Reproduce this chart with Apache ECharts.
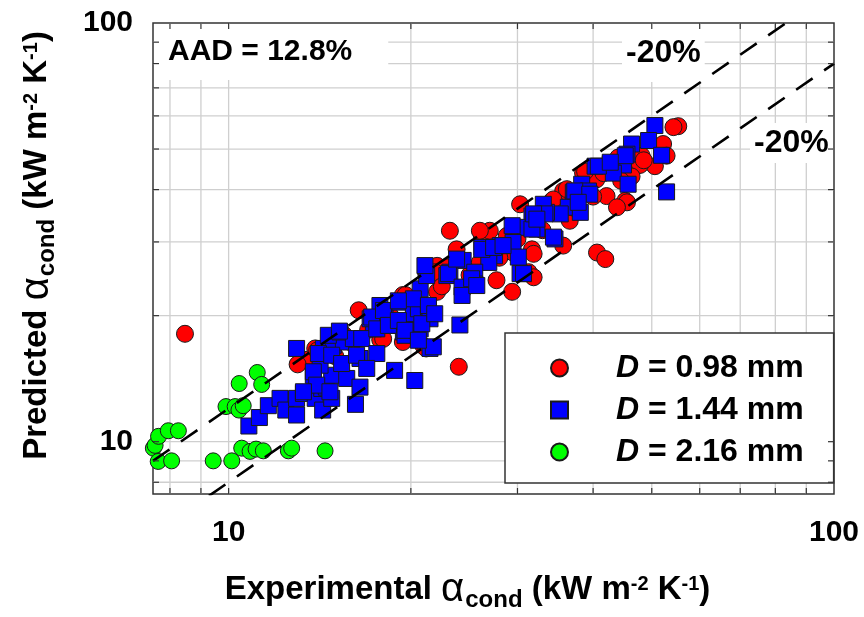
<!DOCTYPE html>
<html>
<head>
<meta charset="utf-8">
<script src="https://cdn.jsdelivr.net/npm/echarts@6/dist/echarts.min.js"></script>
<style>
  html, body { margin: 0; padding: 0; background: #fff; }
  #chart { width: 864px; height: 617px; }
</style>
</head>
<body>
<div id="chart"></div>
<script>
// Axis ranges (both log scales) and labelled ticks
const xRange = [7.5, 100];
const yRange = [7.5, 100];
const xTickLabels = [10, 100];
const yTickLabels = [10, 100];
// Positions of the grid lines / minor ticks on both axes
const gridValues = [8, 9, 10, 20, 30, 40, 50, 60, 70, 80, 90];

// Deviation bands drawn as dashed lines (predicted = ratio * experimental)
const bandRatios = [1.2, 0.8];
const bandLabels = ['-20%', '-20%'];
const aadText = 'AAD = 12.8%';

const seriesNames = ['D = 0.98 mm', 'D = 1.44 mm', 'D = 2.16 mm'];

// [experimental, predicted] in kW m-2 K-1
const d098 = [
  [8.47, 18.1], [24.0, 15.1], [40.6, 28.3], [41.9, 27.3], [23.2, 31.9], [55.3, 56.7], [54.3, 56.4],
  [16.4, 20.6], [13.5, 15.7], [13.9, 16.7], [17.8, 17.5], [19.4, 22.4], [19.3, 19.3], [19.4, 17.3],
  [21.0, 16.9], [22.1, 26.3], [22.1, 22.8], [15.5, 18.0], [23.8, 28.8], [26.2, 31.0], [27.0, 31.9],
  [30.3, 36.9], [34.2, 37.6], [35.7, 39.7], [38.5, 43.8], [40.5, 42.3], [36.6, 33.7], [35.7, 29.4],
  [31.7, 28.8], [31.3, 25.4], [28.8, 31.0], [31.9, 28.1], [52.2, 51.4], [52.9, 48.2], [50.6, 45.5],
  [48.1, 48.2], [47.8, 45.8], [44.0, 47.7], [38.8, 44.2], [41.6, 43.8], [36.2, 40.1], [42.1, 38.6],
  [45.2, 37.6], [46.3, 43.0], [34.4, 37.9], [45.5, 37.3], [43.8, 36.3], [31.9, 24.7], [27.7, 24.3],
  [26.0, 26.8], [26.0, 31.9], [22.9, 26.1], [21.2, 25.2], [29.4, 22.8], [21.9, 25.4], [19.6, 22.4],
  [21.2, 16.7], [29.5, 28.3], [14.0, 16.5], [18.0, 17.6], [17.0, 18.5], [16.0, 17.2], [15.0, 16.0],
  [18.5, 20.0], [20.5, 21.0], [22.5, 23.5], [25.0, 25.0], [28.0, 27.5], [33.0, 32.0], [30.0, 30.5],
  [37.5, 36.0], [40.0, 38.5], [44.5, 42.0], [48.5, 47.0], [32.5, 34.5], [13.0, 15.3]
];
const d144 = [
  [10.8, 10.9], [11.24, 11.42], [11.63, 12.19], [12.16, 12.69], [12.43, 11.9], [12.95, 11.58],
  [12.95, 12.69], [13.29, 13.04], [13.8, 14.41], [13.9, 12.69], [14.25, 13.4], [14.3, 11.9],
  [14.5, 13.5], [14.8, 12.69], [14.8, 14.41], [14.16, 15.23], [15.67, 14.16], [16.2, 12.28],
  [16.48, 13.5], [16.48, 15.8], [12.95, 16.7], [14.34, 16.7], [14.89, 16.99], [15.47, 17.3],
  [14.61, 17.95], [15.28, 18.28], [16.07, 17.63], [17.34, 18.6], [17.13, 19.66], [18.13, 19.85],
  [17.78, 21.15], [19.19, 21.54], [18.71, 18.96], [19.69, 18.96], [20.72, 18.6], [19.44, 18.28],
  [20.19, 20.21], [21.24, 20.77], [21.51, 16.7], [15.24, 18.37], [14.07, 16.24], [14.8, 16.09],
  [13.8, 14.69], [15.37, 15.37], [13.98, 13.65], [14.7, 13.16], [13.29, 13.16], [16.59, 17.63],
  [16.27, 16.09], [17.57, 16.24], [16.91, 14.96], [17.23, 19.85], [18.02, 20.58], [17.57, 18.6],
  [18.36, 18.96], [19.07, 19.48], [19.56, 17.95], [20.45, 18.45], [18.8, 14.8], [20.3, 14.0],
  [21.78, 16.85], [20.58, 20.77], [21.38, 20.97], [20.72, 23.18], [21.24, 24.93], [21.1, 26.34],
  [22.93, 24.93], [20.19, 21.94], [21.51, 19.66], [20.85, 19.13], [40.3, 45.5], [38.3, 41.2],
  [37.1, 39.4], [39.3, 39.7], [36.4, 36.3], [38.1, 35.3], [35.3, 35.0], [33.5, 35.3], [33.1, 36.9],
  [34.6, 30.5], [31.7, 34.6], [30.9, 32.5], [32.3, 32.2], [29.4, 32.8], [29.5, 29.9], [28.1, 29.4],
  [26.2, 29.1], [27.5, 27.8], [26.9, 26.8], [30.1, 27.6], [24.4, 27.1], [23.2, 25.4], [25.5, 25.4],
  [30.3, 25.2], [50.6, 56.9], [49.4, 52.4], [46.3, 51.4], [45.5, 48.6], [51.9, 48.3], [42.7, 46.1],
  [44.9, 45.8], [43.2, 43.8], [45.7, 41.2], [37.3, 39.7], [39.5, 39.0], [52.9, 39.5], [37.8, 37.3],
  [23.07, 25.2], [24.3, 23.4], [25.5, 23.8], [23.8, 27.3], [26.2, 28.8], [27.4, 29.1], [28.4, 29.4],
  [30.7, 25.2], [31.7, 32.2], [34.4, 30.8], [33.3, 35.0], [31.9, 35.0], [32.3, 34.0], [45.2, 48.2],
  [19.07, 21.7], [19.56, 18.45], [20.58, 17.47], [21.38, 21.15], [21.9, 20.21], [24.3, 22.35],
  [25.2, 24.5], [25.7, 23.6], [24.1, 19.0], [40.8, 45.5], [42.7, 46.5]
];
const d216 = [
  [7.51, 9.65], [7.56, 9.8], [7.66, 10.3], [7.65, 8.97], [7.95, 10.62], [8.26, 10.62], [8.05, 9.0],
  [9.43, 9.0], [10.12, 9.0], [10.51, 9.65], [10.85, 9.48], [11.1, 9.6], [11.41, 9.51], [12.55, 9.51],
  [12.71, 9.65], [14.43, 9.51], [9.90, 12.13], [10.25, 12.13], [10.4, 11.9], [10.57, 12.19],
  [10.41, 13.77], [11.15, 14.63], [11.34, 13.70]
];

const FONT = 'Liberation Sans';
const isLabelled = (list, v) => list.some(t => Math.abs(t - v) < 1e-6 * t);

// Rich text pieces for the axis titles (Greek alpha, subscript, superscripts)
const nameRich = {
  t: { fontSize: 33, fontWeight: 'bold', fontFamily: FONT, color: '#000' },
  a: { fontSize: 40, fontWeight: 'normal', fontFamily: FONT, color: '#000' },
  s: { fontSize: 24, fontWeight: 'bold', fontFamily: FONT, color: '#000', padding: [20, 0, 0, 1] },
  p: { fontSize: 20, fontWeight: 'bold', fontFamily: FONT, color: '#000', padding: [0, 0, 11, 0] }
};
const unitPart = '{t| (kW m}{p|-2}{t| K}{p|-1}{t|)}';

// Light grid lines across the plot, dark inward ticks on all four sides
function gridSeries(vertical, z, ticks) {
  return {
    type: 'custom',
    coordinateSystem: 'cartesian2d',
    silent: true,
    z: z,
    data: gridValues.map(v => vertical ? [v, yRange[0]] : [xRange[0], v]),
    renderItem: (params, api) => {
      const v = vertical ? api.value(0) : api.value(1);
      const a = vertical ? api.coord([v, yRange[0]]) : api.coord([xRange[0], v]);
      const b = vertical ? api.coord([v, yRange[1]]) : api.coord([xRange[1], v]);
      if (!ticks) {
        return {
          type: 'line',
          shape: { x1: a[0], y1: a[1], x2: b[0], y2: b[1] },
          style: { stroke: '#cfcfcf', lineWidth: 1.3 }
        };
      }
      const L = 6;
      const st = { stroke: '#333', lineWidth: 1.2 };
      return {
        type: 'group',
        children: vertical ? [
          { type: 'line', shape: { x1: a[0], y1: a[1], x2: a[0], y2: a[1] - L }, style: st },
          { type: 'line', shape: { x1: b[0], y1: b[1], x2: b[0], y2: b[1] + L }, style: st }
        ] : [
          { type: 'line', shape: { x1: a[0], y1: a[1], x2: a[0] + L, y2: a[1] }, style: st },
          { type: 'line', shape: { x1: b[0], y1: b[1], x2: b[0] - L, y2: b[1] }, style: st }
        ]
      };
    }
  };
}

function bandSeries(ratio) {
  return {
    type: 'line',
    data: [[xRange[0], ratio * xRange[0]], [xRange[1], ratio * xRange[1]]],
    symbol: 'none',
    silent: true,
    z: 7,
    clip: true,
    lineStyle: { color: '#000', width: 2.6, type: [20, 14] }
  };
}

function pointSeries(name, data, symbol, size, color, z) {
  return {
    name: name,
    type: 'scatter',
    data: data,
    symbol: symbol,
    symbolSize: size,
    clip: false,
    z: z,
    itemStyle: { color: color, borderColor: '#1a1a1a', borderWidth: 1, opacity: 1 },
    emphasis: { disabled: true }
  };
}

const chart = echarts.init(document.getElementById('chart'));
chart.setOption({
  animation: false,
  backgroundColor: '#fff',
  grid: {
    left: 153, top: 23, width: 681, height: 473,
    show: true, borderColor: '#333', borderWidth: 1.5, backgroundColor: 'transparent'
  },
  xAxis: {
    type: 'log', logBase: 10, min: xRange[0], max: xRange[1],
    axisLine: { show: false }, axisTick: { show: false }, splitLine: { show: false },
    axisLabel: {
      formatter: v => isLabelled(xTickLabels, v) ? String(Math.round(v)) : '',
      fontSize: 30, fontWeight: 'bold', fontFamily: FONT, color: '#000', margin: 24
    },
    name: '{t|Experimental }{a|α}{s|cond}' + unitPart,
    nameLocation: 'middle', nameGap: 74,
    nameTextStyle: { rich: nameRich, padding: [0, 52, 0, 0] }
  },
  yAxis: {
    type: 'log', logBase: 10, min: yRange[0], max: yRange[1],
    axisLine: { show: false }, axisTick: { show: false }, splitLine: { show: false },
    axisLabel: {
      formatter: v => isLabelled(yTickLabels, v) ? String(Math.round(v)) : '',
      fontSize: 30, fontWeight: 'bold', fontFamily: FONT, color: '#000', margin: 20
    },
    name: '{t|Predicted }{a|α}{s|cond}' + unitPart,
    nameLocation: 'middle', nameGap: 94,
    nameTextStyle: { rich: nameRich, padding: [0, 0, 0, 26] }
  },
  legend: {
    orient: 'vertical', left: 505, top: 333, z: 9,
    data: seriesNames,
    selectedMode: false,
    backgroundColor: '#fff', borderColor: '#333', borderWidth: 1.5,
    padding: [19, 30, 15, 45],
    itemWidth: 17, itemHeight: 17, itemGap: 10,
    symbolKeepAspect: true,
    formatter: n => '{i|D}' + n.slice(1),
    textStyle: {
      fontSize: 32, fontWeight: 'bold', fontFamily: FONT, color: '#000', lineHeight: 32,
      padding: [0, 0, 0, 43],
      rich: { i: { fontSize: 32, fontWeight: 'bold', fontStyle: 'italic', fontFamily: FONT, color: '#000', lineHeight: 32 } }
    }
  },
  graphic: [
    {
      type: 'text', left: 154, top: 24, z: 3,
      style: {
        text: aadText, fontSize: 30, fontWeight: 'bold', fontFamily: FONT, fill: '#000',
        backgroundColor: '#fff', padding: [13, 36, 13, 14], lineHeight: 30
      }
    },
    {
      type: 'text', left: 622, top: 24, z: 3,
      style: {
        text: bandLabels[0], fontSize: 32, fontWeight: 'bold', fontFamily: FONT, fill: '#000',
        backgroundColor: '#fff', padding: [13, 4, 13, 4], lineHeight: 32
      }
    },
    {
      type: 'text', left: 750, top: 123, z: 3,
      style: {
        text: bandLabels[1], fontSize: 32, fontWeight: 'bold', fontFamily: FONT, fill: '#000',
        backgroundColor: '#fff', padding: [4, 4, 4, 4], lineHeight: 32
      }
    }
  ],
  series: [
    gridSeries(true, 1, false),
    gridSeries(false, 1, false),
    pointSeries(seriesNames[0], d098, 'circle', 17, '#ff0000', 4),
    pointSeries(seriesNames[1], d144, 'rect', 16, '#0000ff', 5),
    pointSeries(seriesNames[2], d216, 'circle', 16, '#00ff00', 6),
    bandSeries(bandRatios[0]),
    bandSeries(bandRatios[1]),
    gridSeries(true, 10, true),
    gridSeries(false, 10, true)
  ]
});
</script>
</body>
</html>
